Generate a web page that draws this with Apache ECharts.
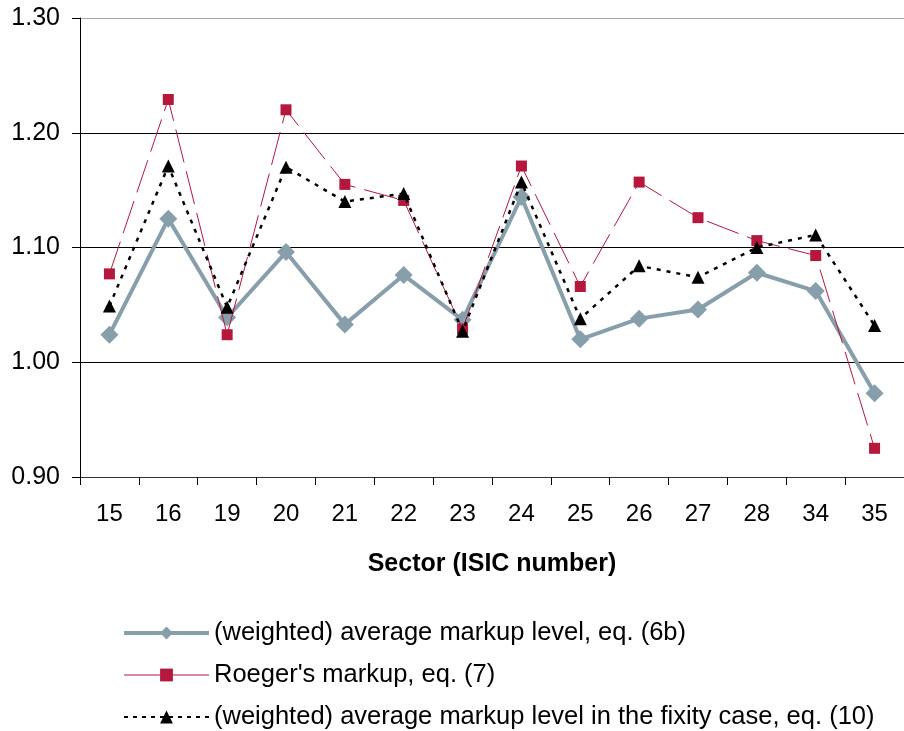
<!DOCTYPE html>
<html>
<head>
<meta charset="utf-8">
<script src="https://cdn.jsdelivr.net/npm/echarts@6/dist/echarts.min.js"></script>
<style>
html,body{margin:0;padding:0;background:#fff;}
#chart{width:904px;height:731px;}
</style>
</head>
<body>
<div id="chart"></div>
<script>
const sectors = ['15','16','19','20','21','22','23','24','25','26','27','28','34','35'];
const weightedMarkup = [1.024,1.125,1.039,1.096,1.033,1.076,1.037,1.144,1.020,1.038,1.046,1.078,1.062,0.973];
const roegerMarkup = [1.077,1.229,1.024,1.220,1.155,1.141,1.029,1.171,1.066,1.157,1.126,1.106,1.093,0.925];
const fixityMarkup = [1.049,1.171,1.048,1.170,1.140,1.147,1.027,1.157,1.038,1.084,1.074,1.100,1.111,1.032];
const seriesNames = [
  '(weighted) average markup level, eq. (6b)',
  "Roeger's markup, eq. (7)",
  '(weighted) average markup level in the fixity case, eq. (10)'
];
const yTicks = {min:0.9, max:1.3, interval:0.1};

const FONT = '"Liberation Sans", Arial, sans-serif';
const chart = echarts.init(document.getElementById('chart'), null, {renderer:'canvas'});
chart.setOption({
  animation:false,
  backgroundColor:'#fff',
  grid:{left:80, top:18, right:-11, bottom:254, show:false},
  legend:{
    orient:'vertical', left:122, top:620, padding:0, height:111,
    itemWidth:85, itemHeight:16, itemGap:16,
    textStyle:{fontFamily:FONT, fontSize:25.5, lineHeight:26, color:'#000'},
    data:[
      {name:seriesNames[0], lineStyle:{width:4}},
      {name:seriesNames[1], lineStyle:{width:1, type:[38,10]}},
      {name:seriesNames[2], lineStyle:{width:2, type:[4,5]}}
    ]
  },
  xAxis:{
    type:'category', data:sectors, boundaryGap:true,
    axisLine:{lineStyle:{color:'#333', width:1}},
    axisTick:{show:true, length:8, lineStyle:{color:'#000'}},
    axisLabel:{fontFamily:FONT, fontSize:24, color:'#000', margin:25, interval:0},
    name:'Sector (ISIC number)', nameLocation:'middle', nameGap:75,
    nameTextStyle:{fontFamily:FONT, fontSize:25, fontWeight:'bold', color:'#000'}
  },
  yAxis:{
    type:'value', min:yTicks.min, max:yTicks.max, interval:yTicks.interval,
    axisLine:{show:true, lineStyle:{color:'#000', width:1}},
    axisTick:{show:true, length:8, lineStyle:{color:'#000'}},
    axisLabel:{fontFamily:FONT, fontSize:25, color:'#000', margin:20,
      formatter:v=>v.toFixed(2)},
    splitLine:{show:true, lineStyle:{color:['#000','#000','#000','#000','#a8a8a8'], width:1}}
  },
  series:[
    {name:seriesNames[0], type:'line', data:weightedMarkup, z:3,
      symbol:'diamond', symbolSize:18,
      lineStyle:{color:'#879eab', width:4},
      itemStyle:{color:'#879eab'}},
    {name:seriesNames[1], type:'line', data:roegerMarkup, z:4,
      symbol:'rect', symbolSize:11,
      lineStyle:{color:'#b5173d', width:1, type:[34,9]},
      itemStyle:{color:'#b5173d'}},
    {name:seriesNames[2], type:'line', data:fixityMarkup, z:5,
      symbol:'triangle', symbolSize:13,
      lineStyle:{color:'#000', width:2.5, type:[4,6]},
      itemStyle:{color:'#000'}}
  ]
});
</script>
</body>
</html>
